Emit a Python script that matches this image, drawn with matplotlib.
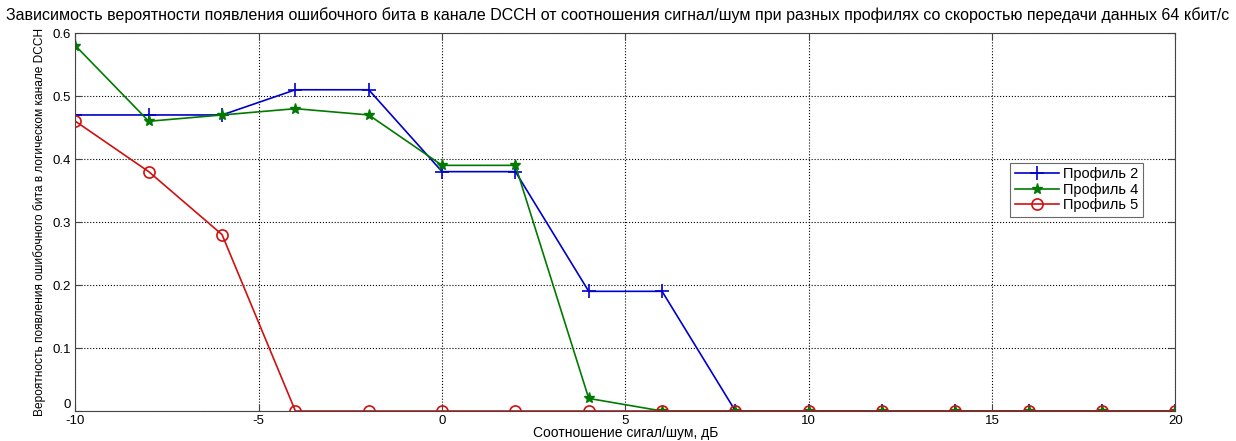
import numpy as np
import matplotlib.pyplot as plt

plt.rcParams['font.family'] = ['Liberation Sans', 'DejaVu Sans']

snr = [-10, -8, -6, -4, -2, 0, 2, 4, 6, 8, 10, 12, 14, 16, 18, 20]
prof2 = [0.47, 0.47, 0.47, 0.51, 0.51, 0.38, 0.38, 0.19, 0.19, 0, 0, 0, 0, 0, 0, 0]
prof4 = [0.58, 0.46, 0.47, 0.48, 0.47, 0.39, 0.39, 0.02, 0, 0, 0, 0, 0, 0, 0, 0]
prof5 = [0.46, 0.38, 0.28, 0, 0, 0, 0, 0, 0, 0, 0, 0, 0, 0, 0, 0]

fig = plt.figure(figsize=(12.36, 4.41), dpi=100)
ax = fig.add_axes([0.061, 0.068, 0.890, 0.857])

ax.plot(snr, prof2, color='#0000cc', marker='+', markersize=10, mew=1.2, lw=1.2, label='Профиль 2')
ax.plot(snr, prof4, color='#007a00', marker='*', markersize=8, lw=1.2, label='Профиль 4')
ax.plot(snr, prof5, color='#d01010', marker='o', markersize=8, mfc='none', mew=1.2, lw=1.2, label='Профиль 5')

ax.set_xlim(-10, 20)
ax.set_ylim(0, 0.6)
ax.set_xticks([-10, -5, 0, 5, 10, 15, 20])
ax.set_xticklabels(['-10', '-5', '0', '5', '10', '15', '20'])
ax.set_yticks([0, 0.1, 0.2, 0.3, 0.4, 0.5, 0.6])
ax.set_yticklabels(['0', '0.1', '0.2', '0.3', '0.4', '0.5', '0.6'])
ax.tick_params(direction='in', top=True, right=True, labelsize=9.5, length=5, color='#444444')
ax.tick_params(axis='x', pad=3)
ax.tick_params(axis='y', pad=3)
# MATLAB puts the y "0" just above the x "-10"
ax.get_yticklabels()[0].set_verticalalignment('bottom')
ax.grid(True, color='black', linestyle=':', linewidth=0.8)
for s in ax.spines.values():
    s.set_color('#444444')

fig.text(0.5, 0.965, 'Зависимость вероятности появления ошибочного бита в канале DCCH от соотношения сигнал/шум при разных профилях со скоростью передачи данных 64 кбит/с',
         fontsize=11.5, ha='center', va='center')
ax.set_xlabel('Соотношение сигал/шум, дБ', fontsize=10, labelpad=-1)
ax.set_ylabel('Вероятность появления ошибочного бита в логическом канале DCCH', fontsize=8.6, labelpad=5)

leg = ax.legend(loc='upper left', bbox_to_anchor=(0.85, 0.656), fontsize=10.5, frameon=True,
                fancybox=False, edgecolor='#444444', handlelength=3, borderpad=0.3,
                labelspacing=0.1, handletextpad=0.3, borderaxespad=0)
leg.get_frame().set_linewidth(0.8)

fig.savefig('out.png', dpi=100)
